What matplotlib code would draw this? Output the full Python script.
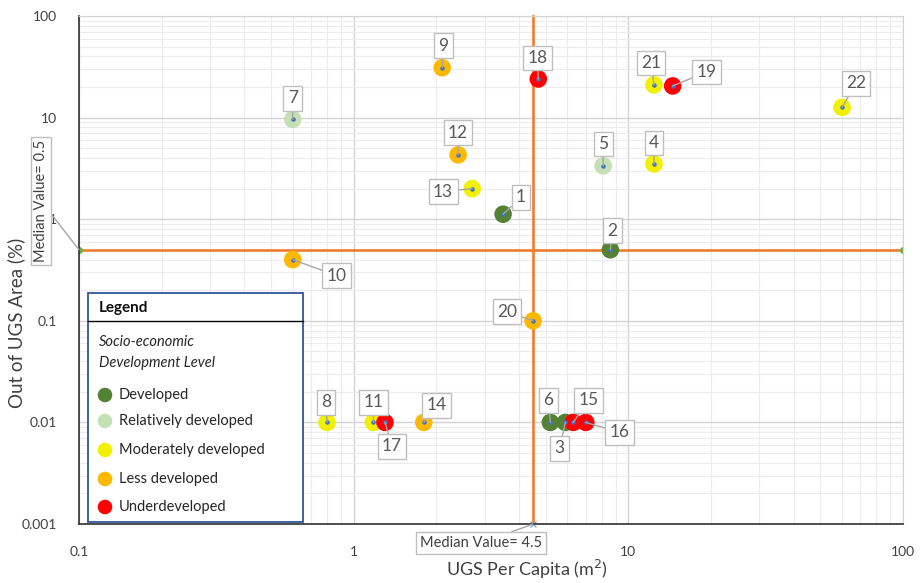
import numpy as np
import matplotlib
matplotlib.use("Agg")
import matplotlib.pyplot as plt
from matplotlib.ticker import FixedLocator, FixedFormatter, LogLocator, NullFormatter

plt.rcParams['font.family'] = ['Lato', 'DejaVu Sans']

# ---- data ----
ids = np.arange(1, 23)
ugs_per_capita = [3.5, 8.6, 5.9, 12.4, 8.1, 5.2, 0.6, 0.8, 2.1, 0.6, 1.18,
                  2.4, 2.7, 1.8, 6.3, 7.0, 1.3, 4.7, 14.5, 4.5, 12.4, 60.0]
out_of_ugs = [1.12, 0.5, 0.01, 3.5, 3.35, 0.01, 9.6, 0.01, 31.0, 0.4, 0.01,
              4.3, 2.0, 0.01, 0.01, 0.01, 0.01, 24.0, 20.5, 0.1, 21.0, 12.6]
level = ["Developed", "Developed", "Developed", "Moderately developed",
         "Relatively developed", "Developed", "Relatively developed",
         "Moderately developed", "Less developed", "Less developed",
         "Moderately developed", "Less developed", "Moderately developed",
         "Less developed", "Underdeveloped", "Underdeveloped", "Underdeveloped",
         "Underdeveloped", "Underdeveloped", "Less developed",
         "Moderately developed", "Moderately developed"]
levels = ["Developed", "Relatively developed", "Moderately developed",
          "Less developed", "Underdeveloped"]
level_colors = ["#548235", "#c5e0b4", "#f0f000", "#ffb800", "#ff0000"]

median_x = 4.5
median_y = 0.5
x_limits = [0.1, 100]
y_limits = [0.001, 100]
x_ticks = [0.1, 1, 10, 100]
x_tick_labels = ["0.1", "1", "10", "100"]
y_ticks = [0.001, 0.01, 0.1, 1, 10, 100]
y_tick_labels = ["0.001", "0.01", "0.1", "1", "10", "100"]

# label box offsets in pixels (dx, dy) from each point
label_offsets = {1: (18, 17), 2: (2, 19), 3: (-6, -26), 4: (0, 21), 5: (0, 22),
                 6: (-2, 22), 7: (0, 21), 8: (-1, 20), 9: (1, 22), 10: (44, -16),
                 11: (0, 20), 12: (0, 22), 13: (-29, -3), 14: (13, 17), 15: (15, 22),
                 16: (34, -10), 17: (7, -24), 18: (-1, 21), 19: (34, 14), 20: (-26, 9),
                 21: (-3, 22), 22: (14, 24)}

W, H = 921, 583
L, R, T, B = 79, 903, 16, 524


def ax_frac(px, py):
    return (px - L) / (R - L), (B - py) / (B - T)


fig = plt.figure(figsize=(W / 100, H / 100), dpi=100)
ax = fig.add_axes([L / W, 1 - B / H, (R - L) / W, (B - T) / H])
ax.set_xscale("log")
ax.set_yscale("log")
ax.set_xlim(x_limits)
ax.set_ylim(y_limits)

# grid
ax.xaxis.set_major_locator(FixedLocator(x_ticks))
ax.xaxis.set_major_formatter(FixedFormatter(x_tick_labels))
ax.yaxis.set_major_locator(FixedLocator(y_ticks))
ax.yaxis.set_major_formatter(FixedFormatter(y_tick_labels))
ax.xaxis.set_minor_locator(LogLocator(base=10, subs=np.arange(2, 10)))
ax.yaxis.set_minor_locator(LogLocator(base=10, subs=np.arange(2, 10)))
ax.xaxis.set_minor_formatter(NullFormatter())
ax.yaxis.set_minor_formatter(NullFormatter())
ax.grid(which="major", color="#d4d4d4", lw=1.0, zorder=0)
ax.grid(which="minor", color="#ececec", lw=0.8, zorder=0)
ax.set_axisbelow(True)
ax.tick_params(which="both", length=0)
ax.tick_params(axis="x", pad=16, labelsize=10, labelcolor="#404040")
ax.tick_params(axis="y", pad=16, labelsize=10, labelcolor="#404040")
for s in ["top", "right"]:
    ax.spines[s].set_color("#d4d4d4")
for s in ["left", "bottom"]:
    ax.spines[s].set_color("#303030")
    ax.spines[s].set_linewidth(1.2)

# median lines
ax.plot(x_limits, [median_y, median_y], color="#ed7d31", lw=1.9, zorder=2,
        marker="o", ms=4, mfc="#70ad47", mec="#70ad47")
ax.plot([median_x, median_x], y_limits, color="#ed7d31", lw=1.9, zorder=2,
        marker="x", ms=5, mec="#8fa8d8", markevery=[0], clip_on=False)

# points
for lv, col in zip(levels, level_colors):
    xs = [x for x, l in zip(ugs_per_capita, level) if l == lv]
    ys = [y for y, l in zip(out_of_ugs, level) if l == lv]
    ax.scatter(xs, ys, s=160, color=col, edgecolors="none", zorder=3)
ax.scatter(ugs_per_capita, out_of_ugs, s=5, color="#4472c4", zorder=4)

# point labels
for i, x, y in zip(ids, ugs_per_capita, out_of_ugs):
    ax.annotate(str(i), (x, y), xytext=label_offsets[i], textcoords="offset pixels",
                ha="center", va="center", fontsize=12.5, color="#595959", zorder=5,
                bbox=dict(boxstyle="square,pad=0.25", fc="white", ec="#bfbfbf", lw=1),
                arrowprops=dict(arrowstyle="-", color="#a6a6a6", lw=1,
                                shrinkA=0, shrinkB=0))

# median labels
ax.annotate("Median Value= 0.5", (x_limits[0], median_y), xytext=(-38, 49),
            textcoords="offset pixels", rotation=90, ha="center", va="center",
            fontsize=10.5, color="#404040", annotation_clip=False, zorder=5,
            bbox=dict(boxstyle="square,pad=0.2", fc="white", ec="#bfbfbf", lw=1),
            arrowprops=dict(arrowstyle="-", color="#a6a6a6", lw=1, shrinkA=0, shrinkB=0))
ax.annotate("Median Value= %.1f" % median_x, (median_x, y_limits[0]), xytext=(-52, -19),
            textcoords="offset pixels", ha="center", va="center",
            fontsize=10.5, color="#404040", annotation_clip=False, zorder=5,
            bbox=dict(boxstyle="square,pad=0.25", fc="white", ec="#bfbfbf", lw=1),
            arrowprops=dict(arrowstyle="-", color="#a6a6a6", lw=1, shrinkA=0, shrinkB=0))

# legend box
x0, y0 = ax_frac(88, 522)
x1, y1 = ax_frac(303, 293)
ax.add_patch(plt.Rectangle((x0, y0), x1 - x0, y1 - y0, transform=ax.transAxes,
                           fc="white", ec="#2f5597", lw=1.3, zorder=6))
lx, ly = ax_frac(88, 321)
ax.plot([x0, x1], [ly, ly], transform=ax.transAxes, color="black", lw=1, zorder=7)
tx, ty = ax_frac(99, 308)
ax.text(tx, ty, "Legend", transform=ax.transAxes, fontsize=11, fontweight="bold",
        va="center", ha="left", color="#111111", zorder=7)
tx, ty = ax_frac(99, 342)
ax.text(tx, ty, "Socio-economic", transform=ax.transAxes, fontsize=10.5, style="italic",
        va="center", ha="left", color="#262626", zorder=7)
tx, ty = ax_frac(99, 363)
ax.text(tx, ty, "Development Level", transform=ax.transAxes, fontsize=10.5, style="italic",
        va="center", ha="left", color="#262626", zorder=7)
entry_y = [395, 421, 450, 479, 507]
for lv, col, py in zip(levels, level_colors, entry_y):
    mx, my = ax_frac(105, py)
    ax.scatter([mx], [my], s=110, color=col, transform=ax.transAxes, zorder=7,
               edgecolors="none", clip_on=False)
    tx, ty = ax_frac(119, py)
    ax.text(tx, ty, lv, transform=ax.transAxes, fontsize=10.5, va="center", ha="left",
            color="#262626", zorder=7)

# axis titles
fig.text(527 / W, 1 - 569 / H, "UGS Per Capita (m$^2$)", ha="center", va="center",
         fontsize=13, color="#404040")
fig.text(16 / W, 1 - 323 / H, "Out of UGS Area (%)", ha="center", va="center",
         rotation=90, fontsize=13.5, color="#404040")

fig.savefig("out.png", dpi=100)
